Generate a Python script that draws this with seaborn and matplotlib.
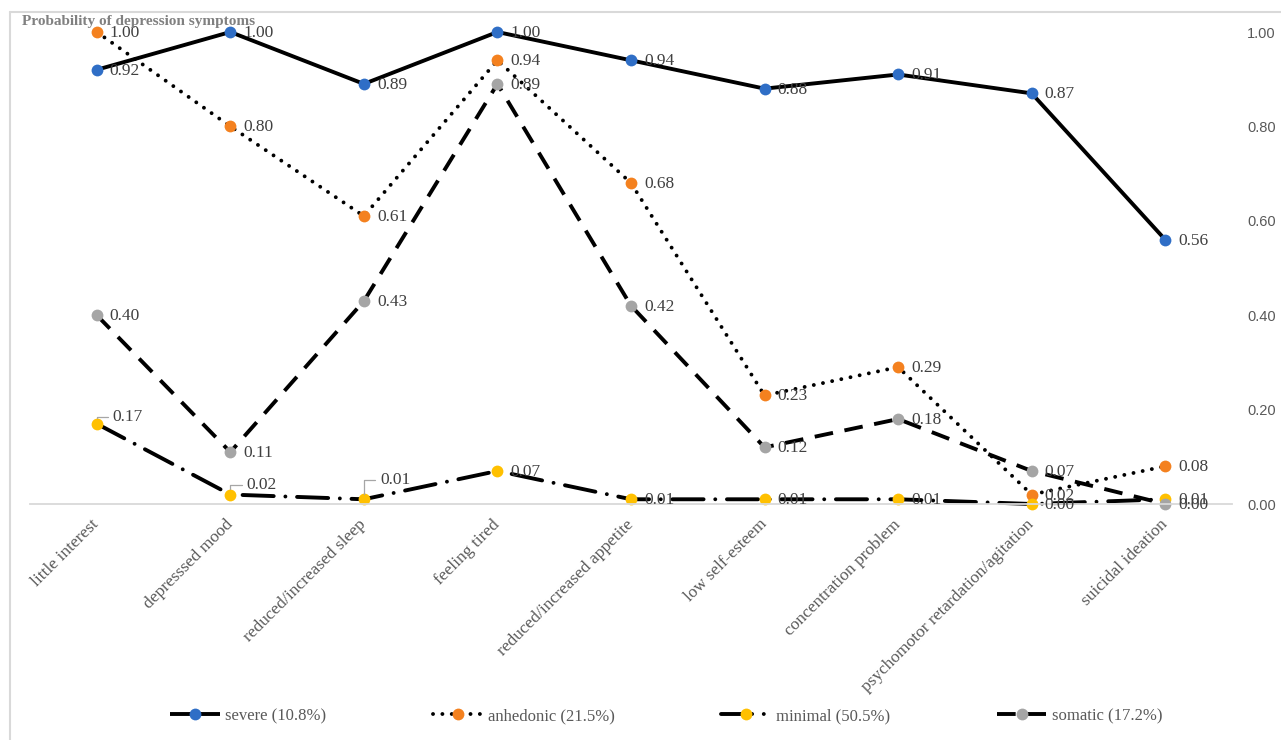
import matplotlib
matplotlib.use("Agg")
import matplotlib.pyplot as plt
from matplotlib.lines import Line2D
import pandas as pd
import seaborn as sns

symptoms = ["little interest", "depresssed mood", "reduced/increased sleep",
            "feeling tired", "reduced/increased appetite", "low self-esteem",
            "concentration problem", "psychomotor retardation/agitation",
            "suicidal ideation"]

severe = [0.92, 1.00, 0.89, 1.00, 0.94, 0.88, 0.91, 0.87, 0.56]
anhedonic = [1.00, 0.80, 0.61, 0.94, 0.68, 0.23, 0.29, 0.02, 0.08]
minimal = [0.17, 0.02, 0.01, 0.07, 0.01, 0.01, 0.01, 0.00, 0.01]
somatic = [0.40, 0.11, 0.43, 0.89, 0.42, 0.12, 0.18, 0.07, 0.00]

series_names = ["severe (10.8%)", "anhedonic (21.5%)", "minimal (50.5%)", "somatic (17.2%)"]
series_values = [severe, anhedonic, minimal, somatic]
y_ticks = [0.0, 0.2, 0.4, 0.6, 0.8, 1.0]
y_title = "Probability of depression symptoms"

marker_colors = ["#2F6EC6", "#F4811F", "#FFC000", "#A5A5A5"]
line_styles = ["-", (0, (0.01, 2.4)), (0, (8.0, 3.0, 0.01, 3.0)), (0, (4.8, 3.0))]
cap_styles = ["round", "round", "round", "butt"]

sns.set_theme(style="white")
plt.rcParams["font.family"] = ["Liberation Serif", "DejaVu Serif"]

W, H = 1281, 740
fig = plt.figure(figsize=(W / 100, H / 100), dpi=100)
ax = fig.add_axes([30 / W, 1 - 504 / H, (1232 - 30) / W, (504 - 32) / H])

rows = []
for name, vals in zip(series_names, series_values):
    for s, v in zip(symptoms, vals):
        rows.append({"symptom": s, "series": name, "value": v})
df = pd.DataFrame(rows)

for name, col, ls, cap in zip(series_names, marker_colors, line_styles, cap_styles):
    sub = df[df["series"] == name]
    sns.lineplot(data=sub, x="symptom", y="value", ax=ax, sort=False,
                 errorbar=None, color="black", linewidth=2.8, linestyle=ls,
                 marker="o", markersize=8.5, markerfacecolor=col,
                 markeredgecolor=col, markeredgewidth=0,
                 dash_capstyle=cap, solid_capstyle="butt",
                 label=name, clip_on=False)

ax.set_xlim(-0.5, len(symptoms) - 0.5)
ax.set_ylim(0, 1)

# data labels
label_color = "#404040"
leader_idx = {0, 1, 2}
for si, vals in enumerate(series_values):
    for i, v in enumerate(vals):
        txt = f"{v:.2f}"
        if si == 2 and i in leader_idx:
            dy = {0: 7, 1: 10, 2: 19}[i]
            ax.annotate(txt, xy=(i, v), xytext=(16, dy), textcoords="offset pixels",
                        fontsize=12.5, color=label_color, ha="left", va="center",
                        arrowprops=dict(arrowstyle="-", color="#A6A6A6", lw=0.9,
                                        shrinkA=1, shrinkB=4, relpos=(0, 0.5),
                                        connectionstyle="angle,angleA=180,angleB=90,rad=0"))
        else:
            ax.annotate(txt, xy=(i, v), xytext=(13, -1), textcoords="offset pixels",
                        fontsize=12.5, color=label_color, ha="left", va="center")

# axes styling
for side in ["top", "left", "right"]:
    ax.spines[side].set_visible(False)
ax.spines["bottom"].set_color("#D9D9D9")
ax.spines["bottom"].set_linewidth(1.3)
ax.grid(False)

ax.yaxis.tick_right()
ax.set_yticks(y_ticks)
ax.set_yticklabels([f"{t:.2f}" for t in y_ticks], family=["Liberation Sans", "DejaVu Sans"],
                   fontsize=10.5, color="#595959")
ax.tick_params(axis="y", length=0, pad=11)

ax.set_xticks(range(len(symptoms)))
ax.set_xticklabels(symptoms, rotation=45, ha="right", va="center",
                   rotation_mode="anchor", fontsize=12.5, color="#595959")
ax.tick_params(axis="x", length=0, pad=13)
ax.set_xlabel("")
ax.set_ylabel("")

fig.text(22 / W, 1 - 21 / H, y_title, fontsize=11, fontweight="bold",
         color="#808080", ha="left", va="center")

# legend
if ax.get_legend() is not None:
    ax.get_legend().remove()
handles, labels = ax.get_legend_handles_labels()
fig.legend(handles, labels, loc="center", bbox_to_anchor=(0.52, 1 - 716 / H),
           ncol=4, frameon=False, fontsize=12, handlelength=3.0,
           columnspacing=6.4, handletextpad=0.3, labelcolor="#595959")

# chart frame
frame_kw = dict(color="#D9D9D9", linewidth=1.5, transform=fig.transFigure)
fig.add_artist(Line2D([10 / W, 1.0], [1 - 12 / H, 1 - 12 / H], **frame_kw))
fig.add_artist(Line2D([10 / W, 10 / W], [0.0, 1 - 12 / H], **frame_kw))

fig.savefig("out.png", dpi=100, facecolor="white")
